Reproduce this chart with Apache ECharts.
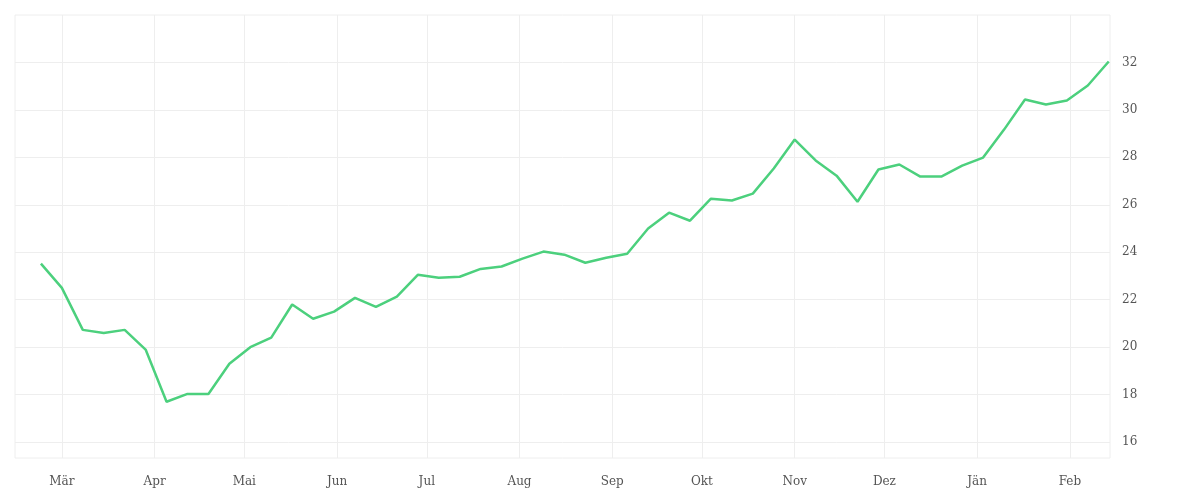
<!DOCTYPE html>
<html><head><meta charset="utf-8">
<script src="https://cdn.jsdelivr.net/npm/echarts@6/dist/echarts.min.js"></script>
<style>html,body{margin:0;padding:0;background:#fff}#c{width:1200px;height:500px}</style>
</head><body><div id="c"></div>
<script>
const startDate = '2021-02-22';
const values = [23.52,22.5,20.73,20.6,20.73,19.9,17.7,18.03,18.03,19.3,20.0,20.4,21.8,21.2,21.5,22.08,21.7,22.13,23.05,22.93,22.97,23.3,23.4,23.73,24.03,23.9,23.56,23.77,23.94,25.0,25.67,25.33,26.26,26.18,26.47,27.53,28.75,27.87,27.23,26.13,27.49,27.7,27.19,27.19,27.65,27.99,29.17,30.44,30.23,30.4,31.03,32.04];
const monthTicks = ['2021-03-01','2021-04-01','2021-05-01','2021-06-01','2021-07-01','2021-08-01','2021-09-01','2021-10-01','2021-11-01','2021-12-01','2022-01-01','2022-02-01'];
const monthNames = ['Jän','Feb','Mär','Apr','Mai','Jun','Jul','Aug','Sep','Okt','Nov','Dez'];
const yTicks = [16,18,20,22,24,26,28,30,32];

const t0 = Date.parse(startDate + 'T00:00:00Z');
const data = values.map((v,i)=>[t0 + i*7*86400000, v]);
const mt = monthTicks.map(s=>Date.parse(s+'T00:00:00Z'));
const chart = echarts.init(document.getElementById('c'));
chart.setOption({
  animation: false,
  grid: {left: 15, right: 90, top: 15, bottom: 42, show: true, borderColor: '#eeeeee', borderWidth: 1},
  xAxis: {
    type: 'value',
    min: Date.parse('2021-02-13T08:00:00Z'),
    max: Date.parse('2022-02-14T10:00:00Z'),
    axisLine: {show: false},
    axisTick: {show: false, customValues: mt},
    axisLabel: {customValues: mt, color: '#555', fontFamily: 'DejaVu Serif', fontSize: 12, margin: 18,
      formatter: v => monthNames[new Date(v).getUTCMonth()]},
    splitLine: {show: true, lineStyle: {color: '#eeeeee'}}
  },
  yAxis: {
    type: 'value', position: 'right',
    min: 15.33, max: 34,
    axisLine: {show: false},
    axisTick: {show: false, customValues: yTicks},
    axisLabel: {customValues: yTicks, color: '#555', fontFamily: 'DejaVu Serif', fontSize: 12, margin: 12},
    splitLine: {show: true, lineStyle: {color: '#eeeeee'}}
  },
  series: [{type: 'line', data: data, showSymbol: false, lineStyle: {color: '#4cd07d', width: 2.5}, itemStyle: {color: '#4cd07d'}}]
});
</script></body></html>
